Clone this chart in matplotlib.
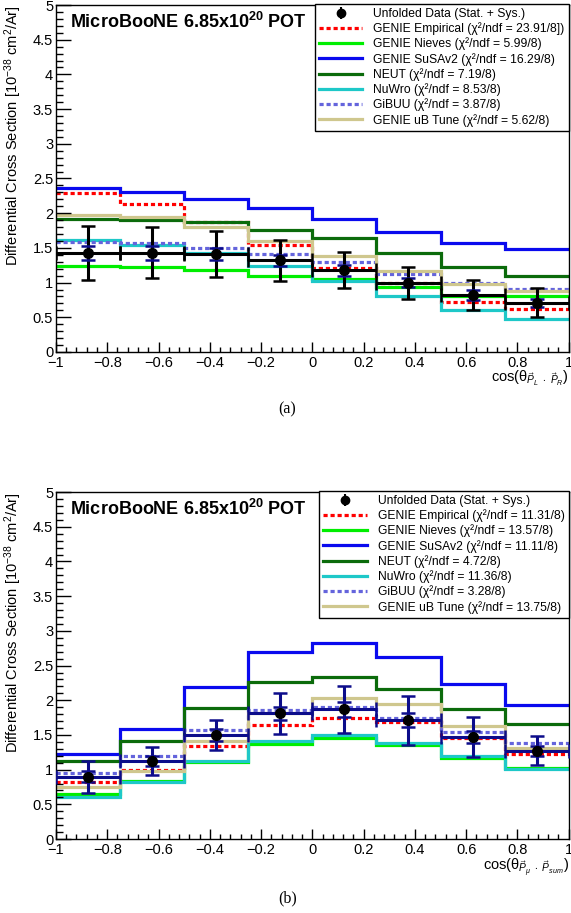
import numpy as np
import matplotlib
matplotlib.use('Agg')
import matplotlib.pyplot as plt
from matplotlib.ticker import MultipleLocator, FuncFormatter

plt.rcParams['font.family'] = ['Liberation Sans', 'DejaVu Sans']
plt.rcParams['mathtext.fontset'] = 'custom'
plt.rcParams['mathtext.rm'] = 'Liberation Sans'
plt.rcParams['mathtext.it'] = 'Liberation Sans:italic'
plt.rcParams['mathtext.bf'] = 'Liberation Sans:bold'

# ---------------------------------------------------------------------------
## Data
bin_edges = [-1.0, -0.75, -0.5, -0.25, 0.0, 0.25, 0.5, 0.75, 1.0]

model_names = ['GENIE Empirical', 'GENIE Nieves', 'GENIE SuSAv2', 'NEUT',
               'NuWro', 'GiBUU', 'GENIE uB Tune']

# (a) cos(theta PL . PR)
emp_a = [2.29, 2.13, 1.87, 1.54, 1.21, 1.00, 0.72, 0.62]
niev_a = [1.24, 1.22, 1.18, 1.09, 1.05, 0.93, 0.81, 0.80]
susa_a = [2.36, 2.31, 2.20, 2.08, 1.91, 1.73, 1.575, 1.48]
neut_a = [1.92, 1.90, 1.88, 1.76, 1.64, 1.42, 1.22, 1.10]
nuwro_a = [1.61, 1.54, 1.43, 1.24, 1.02, 0.80, 0.61, 0.48]
gibuu_a = [1.58, 1.57, 1.50, 1.41, 1.30, 1.13, 0.99, 0.91]
tune_a = [1.98, 1.94, 1.80, 1.60, 1.39, 1.17, 0.98, 0.88]
data_a = [1.43, 1.43, 1.41, 1.32, 1.18, 1.00, 0.82, 0.71]
tot_a = [0.39, 0.37, 0.33, 0.30, 0.26, 0.23, 0.21, 0.21]
stat_a = [0.10, 0.10, 0.09, 0.08, 0.08, 0.07, 0.07, 0.06]
chi2_a = ['23.91/8]', '5.99/8', '16.29/8', '7.19/8', '8.53/8', '3.87/8', '5.62/8']

# (b) cos(theta Pmu . Psum)
emp_b = [0.82, 1.00, 1.34, 1.64, 1.75, 1.68, 1.46, 1.22]
niev_b = [0.65, 0.83, 1.11, 1.37, 1.45, 1.36, 1.17, 1.02]
susa_b = [1.23, 1.58, 2.19, 2.69, 2.83, 2.63, 2.24, 1.93]
neut_b = [1.13, 1.42, 1.89, 2.27, 2.33, 2.16, 1.87, 1.66]
nuwro_b = [0.61, 0.82, 1.12, 1.42, 1.50, 1.38, 1.19, 1.01]
gibuu_b = [0.955, 1.20, 1.57, 1.86, 1.91, 1.75, 1.54, 1.38]
tune_b = [0.745, 0.98, 1.41, 1.82, 2.03, 1.95, 1.63, 1.31]
data_b = [0.90, 1.12, 1.50, 1.81, 1.87, 1.71, 1.47, 1.27]
tot_b = [0.23, 0.20, 0.22, 0.29, 0.34, 0.35, 0.29, 0.21]
stat_b = [0.08, 0.07, 0.08, 0.10, 0.11, 0.10, 0.09, 0.07]
chi2_b = ['11.31/8', '13.57/8', '11.11/8', '4.72/8', '11.36/8', '3.28/8', '13.75/8']

# ---------------------------------------------------------------------------
## Styles
navy = '#0c0c8a'
dash = (0, (1.3, 0.9))
styles = [('#ff0000', dash), ('#00ee00', '-'), ('#0a0aee', '-'), ('#0b6b0b', '-'),
          ('#1ec8c8', '-'), ('#6464dc', dash), ('#cfc78e', '-')]
lw = 2.3


def tickfmt(v, pos):
    v = round(v, 3)
    if v == 0:
        return '0'
    return ('%g' % v).replace('-', '\u2212')


def draw_panel(ax, models, data, tot, stat, chi2, xlabel, hcolor):
    edges = np.array(bin_edges)
    centers = 0.5 * (edges[1:] + edges[:-1])
    halfw = 0.5 * (edges[1:] - edges[:-1])

    handles = []
    proxy = ax.errorbar([np.nan], [np.nan], yerr=[1.0], fmt='o', color='black',
                        ms=6, capsize=0, elinewidth=1.5)
    handles.append(proxy)
    labels = ['Unfolded Data (Stat. + Sys.)']
    for name, vals, (col, ls), c2 in zip(model_names, models, styles, chi2):
        h = ax.stairs(vals, edges, baseline=None, color=col, lw=lw, ls=ls)
        handles.append(h)
        labels.append(name + ' (\u03c7\u00b2/ndf = ' + c2 + ')')

    eb = ax.errorbar(centers, data, xerr=halfw, yerr=tot, fmt='none', ecolor=hcolor,
                     elinewidth=2.2, capsize=5, capthick=1.8, zorder=5)
    for cl in eb[1]:
        cl.set_color(navy)
    ax.errorbar(centers, data, yerr=stat, fmt='none', ecolor=navy, elinewidth=0,
                capsize=5, capthick=1.8, zorder=5)
    ax.plot(centers, data, 'o', color='black', ms=7, zorder=6)

    ax.set_xlim(-1, 1)
    ax.set_ylim(0, 5)
    ax.xaxis.set_major_locator(MultipleLocator(0.2))
    ax.xaxis.set_minor_locator(MultipleLocator(0.04))
    ax.yaxis.set_major_locator(MultipleLocator(0.5))
    ax.yaxis.set_minor_locator(MultipleLocator(0.1))
    ax.xaxis.set_major_formatter(FuncFormatter(tickfmt))
    ax.yaxis.set_major_formatter(FuncFormatter(tickfmt))
    ax.tick_params(axis='both', which='both', direction='in', top=False, right=False,
                   labelsize=10.5, width=1)
    ax.tick_params(axis='y', which='major', length=10.5, pad=2)
    ax.tick_params(axis='y', which='minor', length=5.3)
    ax.tick_params(axis='x', which='major', length=7.2, pad=3)
    ax.tick_params(axis='x', which='minor', length=3.6)
    for sp in ax.spines.values():
        sp.set_linewidth(1)

    ax.set_ylabel(r'Differential Cross Section [10$^{-38}$ cm$^{2}$/Ar]',
                  fontsize=10.5, loc='top')
    ax.yaxis.set_label_coords(-0.062, 1.0)
    ax.set_xlabel(xlabel, fontsize=10.5, loc='right')
    ax.xaxis.set_label_coords(1.0, -0.05)

    ax.text(0.027, 0.952, r'MicroBooNE 6.85x10$^{\mathbf{20}}$ POT', transform=ax.transAxes,
            fontsize=13, fontweight='bold', va='center', ha='left')

    leg = ax.legend(handles, labels, loc='upper right', bbox_to_anchor=(1.0, 1.004),
                    borderaxespad=0, fontsize=8.7, frameon=True, fancybox=False,
                    framealpha=1, edgecolor='black', handlelength=3.6,
                    handletextpad=0.9, labelspacing=0.2, borderpad=0.35)
    leg.get_frame().set_linewidth(1)


fig = plt.figure(figsize=(5.71, 9.13), dpi=100)
ax1 = fig.add_axes([0.098, 0.6145, 0.898, 0.380])
ax2 = fig.add_axes([0.098, 0.081, 0.898, 0.380])

draw_panel(ax1, [emp_a, niev_a, susa_a, neut_a, nuwro_a, gibuu_a, tune_a],
           data_a, tot_a, stat_a, chi2_a,
           r'cos($\mathrm{\theta}_{\vec{P}_{L}\ \bullet\ \vec{P}_{R}}$)', 'black')
draw_panel(ax2, [emp_b, niev_b, susa_b, neut_b, nuwro_b, gibuu_b, tune_b],
           data_b, tot_b, stat_b, chi2_b,
           r'cos($\mathrm{\theta}_{\vec{P}_{\mu}\ \bullet\ \vec{P}_{sum}}$)', navy)

fig.text(0.503, 1 - 409 / 913, '(a)', family='Liberation Serif', fontsize=11.5,
         ha='center', va='center')
fig.text(0.503, 1 - 898 / 913, '(b)', family='Liberation Serif', fontsize=11.5,
         ha='center', va='center')

fig.savefig('out.png', dpi=100)
plt.close(fig)
